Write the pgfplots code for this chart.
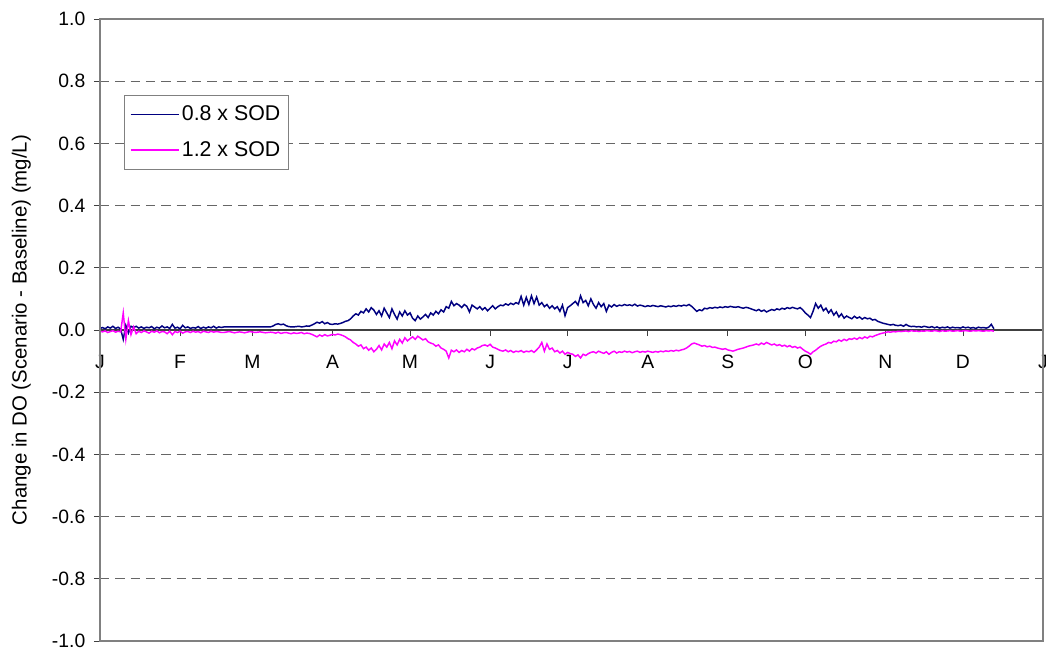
\documentclass[border=0pt]{standalone}
\usepackage{pgfplots}
\pgfplotsset{compat=1.18}
\usepackage{fontspec}
\setmainfont{Liberation Sans}
\definecolor{sodblue}{HTML}{000080}
\definecolor{sodmag}{HTML}{FF00FF}
\definecolor{framegray}{HTML}{808080}
\begin{document}
\begin{tikzpicture}[font=\fontsize{14.5}{17}\selectfont]
\begin{axis}[
  name=ax,
  scale only axis,
  width=707.25pt, height=466.5pt,
  xmin=0, xmax=365, ymin=-1, ymax=1,
  axis x line=middle, axis y line=left,
  axis line style={-},
  x axis line style={draw=black!75, line width=0.8pt},
  y axis line style={draw=black!85, line width=0.9pt},
  hide obscured x ticks=false,
  xtick={0,31,59,90,120,151,181,212,243,273,304,334,365},
  xticklabels={J,F,M,A,M,J,J,A,S,O,N,D,J},
  x tick label style={anchor=north, yshift=-10.5pt, font=\fontsize{14.5}{17}\selectfont},
  ytick={-1,-0.8,...,1},
  yticklabels={-1.0,-0.8,-0.6,-0.4,-0.2,0.0,0.2,0.4,0.6,0.8,1.0},
  y tick label style={anchor=east, xshift=-3pt, font=\fontsize{14.5}{17}\selectfont},
  tick align=outside,
  major tick length=4.5pt,
  tick style={draw=black!75, line width=0.6pt},
  ymajorgrids,
  grid style={dash pattern=on 7pt off 4.5pt, draw=black!60, line width=0.6pt},
  ylabel={Change in DO (Scenario - Baseline) (mg/L)},
  ylabel style={at={([xshift=-59pt]axis description cs:0,0.5)}, anchor=center, font=\fontsize{15.3}{18}\selectfont},
  legend style={at={(0.0255,0.878)}, anchor=north west, draw=framegray, line width=0.8pt,
    font=\fontsize{16}{18}\selectfont, inner xsep=4pt, inner ysep=6pt, row sep=10pt,
    cells={anchor=west}},
  legend image code/.code={\draw[#1, line width=1pt] (0pt,0pt) -- (36pt,0pt);},
  after end axis/.code={\draw[framegray, line width=1.3pt] (rel axis cs:0,0) rectangle (rel axis cs:1,1);},
]
\addplot[sodblue, line width=1.1pt] coordinates {
(0,0.005)(1,0.008)(2,0.004)(3,0.010)(4,0.006)(5,0.012)(6,0.005)(7,0.009)(8,0.003)(9,-0.030)(10,0.015)(11,-0.010)(12,0.012)
(13,0.008)(14,0.012)(15,0.006)(16,0.010)(17,0.005)(18,0.009)(19,0.007)(20,0.011)(21,0.004)(22,0.009)(23,0.006)(24,0.013)(25,0.007)(26,0.010)(27,0.005)(28,0.018)(29,0.006)(30,0.009)(31,0.004)(32,0.015)(33,0.007)(34,0.010)(35,0.005)(36,0.008)(37,0.006)(38,0.011)(39,0.005)(40,0.009)(41,0.006)(42,0.010)(43,0.007)(44,0.012)(45,0.006)(46,0.010)(47,0.008)
(48,0.010)(66,0.010)
(67,0.013)(68,0.018)(69,0.020)(70,0.017)(71,0.019)(72,0.014)(73,0.011)(74,0.010)(75,0.010)
(76,0.011)(77,0.012)(78,0.010)(79,0.011)(80,0.013)(81,0.012)(82,0.016)
(83,0.020)(84,0.025)(85,0.022)(86,0.027)(87,0.020)(88,0.024)(89,0.019)
(90,0.018)(91,0.020)(92,0.019)(93,0.021)(94,0.024)(95,0.028)(96,0.030)
(97,0.036)(98,0.045)(99,0.052)(100,0.048)(101,0.060)(102,0.055)(103,0.068)
(104,0.058)(105,0.072)(106,0.064)(107,0.050)(108,0.062)(109,0.045)(110,0.070)
(111,0.055)(112,0.040)(113,0.068)(114,0.050)(115,0.035)(116,0.058)(117,0.045)(118,0.062)(119,0.048)(120,0.055)
(121,0.038)(122,0.030)(123,0.045)(124,0.035)(125,0.042)(126,0.050)(127,0.040)(128,0.055)
(129,0.048)(130,0.060)(131,0.052)(132,0.065)(133,0.058)(134,0.075)(135,0.070)(136,0.092)
(137,0.078)(138,0.085)(139,0.080)(140,0.072)(141,0.082)(142,0.076)(143,0.058)(144,0.080)(145,0.074)
(146,0.068)(147,0.075)(148,0.065)(149,0.072)(150,0.062)(151,0.070)(152,0.078)(153,0.068)(154,0.075)(155,0.080)
(156,0.078)(157,0.084)(158,0.080)(159,0.086)(160,0.082)(161,0.088)(162,0.084)(163,0.108)(164,0.080)(165,0.105)(166,0.082)
(167,0.110)(168,0.085)(169,0.106)(170,0.080)(171,0.088)(172,0.075)(173,0.082)(174,0.070)(175,0.078)
(176,0.068)(177,0.075)(178,0.060)(179,0.080)(180,0.046)(181,0.072)(182,0.078)
(183,0.085)(184,0.092)(185,0.080)(186,0.110)(187,0.088)(188,0.095)(189,0.078)(190,0.100)
(191,0.082)(192,0.070)(193,0.088)(194,0.075)(195,0.085)(196,0.060)(197,0.080)(198,0.074)(199,0.082)(200,0.076)
(201,0.080)(202,0.078)(203,0.082)(204,0.079)(205,0.081)(206,0.078)(207,0.083)(208,0.077)(209,0.080)(210,0.078)(211,0.075)(212,0.078)(213,0.076)(214,0.079)(215,0.077)
(216,0.075)(217,0.078)(218,0.076)(219,0.074)(220,0.077)(221,0.075)(222,0.078)(223,0.076)(224,0.079)(225,0.077)(226,0.080)(227,0.078)(228,0.082)(229,0.076)(230,0.068)
(231,0.060)(232,0.065)(233,0.062)(234,0.070)(235,0.068)(236,0.072)(237,0.070)(238,0.073)(239,0.071)(240,0.074)
(241,0.072)(242,0.075)(243,0.073)(244,0.076)(245,0.074)(246,0.073)(247,0.075)(248,0.072)(249,0.070)(250,0.073)(251,0.071)(252,0.068)(253,0.065)(254,0.062)(255,0.066)
(256,0.060)(257,0.064)(258,0.058)(259,0.062)(260,0.066)(261,0.063)(262,0.068)(263,0.065)(264,0.070)(265,0.067)(266,0.072)(267,0.069)(268,0.073)(269,0.070)(270,0.068)
(271,0.072)(272,0.065)(273,0.055)(274,0.048)(275,0.040)(276,0.060)(277,0.085)(278,0.070)(279,0.080)(280,0.062)
(281,0.070)(282,0.055)(283,0.065)(284,0.048)(285,0.058)(286,0.042)(287,0.052)(288,0.038)(289,0.045)(290,0.040)
(291,0.036)(292,0.044)(293,0.038)(294,0.042)(295,0.035)(296,0.040)(297,0.036)(298,0.038)(299,0.032)(300,0.034)
(301,0.028)(302,0.025)(303,0.022)(304,0.020)(305,0.018)(306,0.016)(307,0.018)(308,0.015)(309,0.014)(310,0.016)
(311,0.012)(312,0.018)(313,0.013)(314,0.011)(315,0.012)(316,0.010)(317,0.011)(318,0.009)(319,0.012)(320,0.010)
(321,0.008)(322,0.011)(323,0.007)(324,0.010)(325,0.006)(326,0.009)(327,0.007)(328,0.010)(329,0.006)(330,0.009)
(331,0.007)(332,0.008)(333,0.006)(334,0.010)(335,0.007)(336,0.009)(337,0.006)(338,0.008)(339,0.005)(340,0.009)
(341,0.007)(342,0.008)(343,0.006)(344,0.009)(345,0.018)(346,0.004)
};
\addlegendentry{0.8 x SOD}
\addplot[sodmag, line width=1.1pt] coordinates {
(0,-0.004)(1,-0.006)(2,-0.003)(3,-0.008)(4,-0.005)(5,-0.002)(6,-0.007)(7,-0.004)(8,-0.006)
(9,0.055)(10,-0.030)(11,0.030)(12,-0.015)(13,0.010)(14,-0.012)
(15,-0.004)(16,-0.008)(17,-0.003)(18,-0.006)(19,-0.010)(20,-0.004)(21,-0.007)(22,-0.003)(23,-0.009)(24,-0.005)
(25,-0.006)(26,-0.012)(27,-0.004)(28,-0.015)(29,-0.005)(30,-0.008)(31,-0.004)(32,-0.010)(33,-0.006)(34,-0.005)
(35,-0.008)(36,-0.004)(37,-0.007)(38,-0.005)(39,-0.009)(40,-0.004)(41,-0.006)(42,-0.008)(43,-0.004)(44,-0.007)
(45,-0.005)(46,-0.006)(47,-0.008)
(48,-0.008)(50,-0.005)(52,-0.009)(54,-0.006)(56,-0.009)(58,-0.005)(60,-0.008)(62,-0.006)(64,-0.009)(66,-0.007)
(67,-0.008)(68,-0.010)(69,-0.007)(70,-0.011)(71,-0.009)(72,-0.008)(73,-0.010)(74,-0.012)(75,-0.009)(76,-0.011)(77,-0.010)(78,-0.008)(79,-0.012)(80,-0.010)(81,-0.011)(82,-0.014)
(83,-0.018)(84,-0.022)(85,-0.016)(86,-0.020)(87,-0.015)(88,-0.019)(89,-0.017)(90,-0.014)(91,-0.016)(92,-0.013)(93,-0.015)(94,-0.018)(95,-0.022)(96,-0.028)
(97,-0.032)(98,-0.040)(99,-0.045)(100,-0.052)(101,-0.048)(102,-0.060)(103,-0.055)(104,-0.065)(105,-0.058)(106,-0.070)(107,-0.062)(108,-0.050)(109,-0.064)(110,-0.045)
(111,-0.055)(112,-0.040)(113,-0.060)(114,-0.035)(115,-0.048)(116,-0.030)(117,-0.042)(118,-0.025)(119,-0.035)(120,-0.028)
(121,-0.022)(122,-0.030)(123,-0.020)(124,-0.026)(125,-0.032)(126,-0.028)(127,-0.038)(128,-0.042)
(129,-0.045)(130,-0.052)(131,-0.048)(132,-0.058)(133,-0.062)(134,-0.068)(135,-0.090)(136,-0.065)
(137,-0.070)(138,-0.064)(139,-0.072)(140,-0.066)(141,-0.070)(142,-0.062)(143,-0.068)(144,-0.060)(145,-0.064)
(146,-0.058)(147,-0.055)(148,-0.050)(149,-0.048)(150,-0.052)(151,-0.046)(152,-0.055)(153,-0.058)(154,-0.062)(155,-0.066)
(156,-0.068)(157,-0.064)(158,-0.070)(159,-0.066)(160,-0.072)(161,-0.068)(162,-0.070)(163,-0.066)(164,-0.072)(165,-0.068)(166,-0.070)
(167,-0.066)(168,-0.072)(169,-0.064)(170,-0.055)(171,-0.040)(172,-0.068)(173,-0.045)(174,-0.062)(175,-0.058)
(176,-0.070)(177,-0.066)(178,-0.074)(179,-0.068)(180,-0.078)(181,-0.072)(182,-0.076)
(183,-0.078)(184,-0.085)(185,-0.080)(186,-0.090)(187,-0.078)(188,-0.082)(189,-0.076)(190,-0.072)
(191,-0.070)(192,-0.074)(193,-0.068)(194,-0.072)(195,-0.075)(196,-0.070)(197,-0.078)(198,-0.072)(199,-0.068)(200,-0.074)
(201,-0.070)(202,-0.072)(203,-0.068)(204,-0.071)(205,-0.069)(206,-0.073)(207,-0.070)(208,-0.068)(209,-0.072)(210,-0.069)(211,-0.071)(212,-0.068)(213,-0.070)(214,-0.072)(215,-0.069)
(216,-0.071)(217,-0.068)(218,-0.070)(219,-0.067)(220,-0.069)(221,-0.066)(222,-0.068)(223,-0.065)(224,-0.067)(225,-0.064)(226,-0.062)(227,-0.058)(228,-0.052)(229,-0.045)(230,-0.042)
(231,-0.045)(232,-0.048)(233,-0.052)(234,-0.050)(235,-0.054)(236,-0.052)(237,-0.056)(238,-0.055)(239,-0.058)(240,-0.060)
(241,-0.062)(242,-0.060)(243,-0.064)(244,-0.066)(245,-0.068)(246,-0.065)(247,-0.062)(248,-0.060)(249,-0.058)(250,-0.055)(251,-0.052)(252,-0.050)(253,-0.048)(254,-0.045)(255,-0.048)
(256,-0.042)(257,-0.046)(258,-0.040)(259,-0.044)(260,-0.048)(261,-0.045)(262,-0.050)(263,-0.047)(264,-0.052)(265,-0.049)(266,-0.054)(267,-0.050)(268,-0.056)(269,-0.053)(270,-0.058)
(271,-0.055)(272,-0.062)(273,-0.068)(274,-0.072)(275,-0.078)(276,-0.070)(277,-0.065)(278,-0.058)(279,-0.052)(280,-0.048)
(281,-0.045)(282,-0.040)(283,-0.042)(284,-0.036)(285,-0.038)(286,-0.032)(287,-0.036)(288,-0.030)(289,-0.034)(290,-0.028)
(291,-0.030)(292,-0.026)(293,-0.030)(294,-0.024)(295,-0.028)(296,-0.022)(297,-0.026)(298,-0.020)(299,-0.022)(300,-0.018)
(301,-0.015)(302,-0.012)(303,-0.010)(304,-0.008)(305,-0.006)(306,-0.007)(307,-0.005)(308,-0.006)(309,-0.004)(310,-0.005)
(311,-0.004)(312,-0.003)(313,-0.005)(314,-0.002)(315,-0.004)(316,-0.003)(317,-0.005)(318,-0.003)(319,-0.004)(320,-0.002)
(321,-0.003)(322,-0.004)(323,-0.002)(324,-0.003)(325,-0.005)(326,-0.002)(327,-0.004)(328,-0.003)(329,-0.002)(330,-0.004)
(331,-0.003)(332,-0.002)(333,-0.004)(334,-0.003)(335,-0.002)(336,-0.003)(337,-0.004)(338,-0.002)(339,-0.003)(340,-0.002)
(341,-0.003)(342,-0.004)(343,-0.002)(344,-0.003)(345,-0.002)(346,-0.004)
};
\addlegendentry{1.2 x SOD}
\end{axis}
\pgfresetboundingbox
\path ([xshift=-75pt,yshift=-9.75pt]ax.south west) rectangle ([xshift=2.25pt,yshift=14.25pt]ax.north east);
\end{tikzpicture}
\end{document}
